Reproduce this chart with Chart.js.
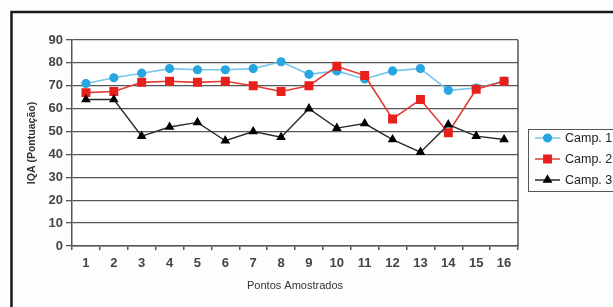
<!DOCTYPE html>
<html>
<head>
<meta charset="utf-8">
<script src="https://cdn.jsdelivr.net/npm/chart.js@4/dist/chart.umd.min.js"></script>
<style>
  html, body { margin: 0; padding: 0; background: #fdfdfd; }
  #wrap { position: relative; width: 613px; height: 307px; }
</style>
</head>
<body>
<div id="wrap"><canvas id="myChart" width="613" height="307"></canvas></div>
<script>
// dados
const pontos = ['1','2','3','4','5','6','7','8','9','10','11','12','13','14','15','16'];
const camp1 = [71, 73.5, 75.5, 77.5, 77, 77, 77.5, 80.5, 75, 76.5, 73, 76.5, 77.5, 68, 69, 72];
const camp2 = [67, 67.5, 71.5, 72, 71.5, 72, 70, 67.5, 70, 78.5, 74.5, 55.5, 64, 49.5, 68.5, 72];
const camp3 = [64, 64, 48, 52, 54, 46, 50, 47.5, 60, 51.5, 53.5, 46.5, 41, 53, 48, 46.5];
const nomes = ['Camp. 1', 'Camp. 2', 'Camp. 3'];

const fonte = "'Liberation Sans', Arial, sans-serif";

// moldura externa + borda direita do grafico
const moldura = {
    id: 'moldura',
    beforeDraw(chart) {
        const ctx = chart.ctx;
        ctx.save();
        ctx.fillStyle = '#fdfdfd';
        ctx.fillRect(0, 0, chart.width, chart.height);
        ctx.fillStyle = '#ffffff';
        const a = chart.chartArea;
        ctx.fillRect(a.left, a.top, a.right - a.left, a.bottom - a.top);
        ctx.strokeStyle = '#1a1a1a';
        ctx.lineWidth = 2.5;
        ctx.beginPath();
        ctx.moveTo(11.5, chart.height + 2);
        ctx.lineTo(11.5, 12);
        ctx.lineTo(chart.width + 2, 12);
        ctx.stroke();
        ctx.restore();
    },
    afterDraw(chart) {
        const ctx = chart.ctx;
        const a = chart.chartArea;
        ctx.save();
        ctx.strokeStyle = '#555';
        ctx.lineWidth = 1.5;
        ctx.beginPath();
        ctx.moveTo(a.right, a.top);
        ctx.lineTo(a.right, a.bottom);
        ctx.stroke();
        ctx.restore();
    }
};

// legenda com caixa, do lado direito
const legenda = {
    id: 'legenda',
    afterDraw(chart) {
        const ctx = chart.ctx;
        ctx.save();
        ctx.strokeStyle = '#555';
        ctx.lineWidth = 1;
        ctx.strokeRect(528.5, 129.5, 100, 62);
        let y = 138;
        for (const ds of chart.data.datasets) {
            ctx.strokeStyle = ds.borderColor;
            ctx.lineWidth = 1.5;
            ctx.beginPath();
            ctx.moveTo(535, y);
            ctx.lineTo(560, y);
            ctx.stroke();
            ctx.fillStyle = ds.pointBackgroundColor;
            ctx.strokeStyle = ds.pointBackgroundColor;
            Chart.helpers.drawPoint(ctx, {pointStyle: ds.pointStyle, radius: ds.pointRadius, rotation: 0, borderWidth: 1}, 547.5, y);
            ctx.fillStyle = '#222';
            ctx.font = '12.5px ' + fonte;
            ctx.textBaseline = 'middle';
            ctx.textAlign = 'left';
            ctx.fillText(ds.label, 565, y + 1);
            y += 21;
        }
        ctx.restore();
    }
};

const ctx = document.getElementById('myChart').getContext('2d');

const data = {
    labels: pontos,
    datasets: [
        {
            label: nomes[0], data: camp1, order: 3,
            borderColor: '#78c6ec', borderWidth: 1.6,
            pointStyle: 'circle', pointRadius: 3.8,
            pointBackgroundColor: '#27a6e0', pointBorderColor: '#27a6e0',
        },
        {
            label: nomes[1], data: camp2, order: 2,
            borderColor: '#e23b35', borderWidth: 1.6,
            pointStyle: 'rect', pointRadius: 5.2,
            pointBackgroundColor: '#e8201c', pointBorderColor: '#e8201c',
        },
        {
            label: nomes[2], data: camp3, order: 1,
            borderColor: '#2a2a2a', borderWidth: 1.4,
            pointStyle: 'triangle', pointRadius: 4.2,
            pointBackgroundColor: '#000', pointBorderColor: '#000',
        }
    ]
};

const options = {
    responsive: false,
    animation: false,
    layout: { padding: { top: 40, right: 95, bottom: 0, left: 0 } },
    plugins: { legend: { display: false }, tooltip: { enabled: false } },
    elements: { line: { tension: 0 } },
    scales: {
        x: {
            offset: true,
            grid: { offset: true, drawOnChartArea: false, drawTicks: true, tickLength: 4, color: '#555', lineWidth: 1.5 },
            border: { color: '#555', width: 1.5 },
            ticks: { color: '#444', font: { family: fonte, size: 13, weight: 'bold' }, padding: 6, maxRotation: 0, autoSkip: false },
            title: { display: true, text: 'Pontos Amostrados', color: '#333', font: { family: fonte, size: 11 }, padding: { top: 0, bottom: 14 } },
            afterFit(scale) { scale.height = 61; }
        },
        y: {
            min: 0, max: 90,
            grid: { color: '#555', lineWidth: 1.3, tickLength: 6 },
            border: { color: '#555', width: 1.5 },
            ticks: { stepSize: 10, color: '#444', font: { family: fonte, size: 13, weight: 'bold' }, padding: 3 },
            title: { display: true, text: 'IQA (Pontuação)', color: '#333', font: { family: fonte, size: 10.5, weight: 'bold' }, padding: { top: 26, bottom: 0 } },
            afterFit(scale) { scale.width = 72; }
        }
    }
};

new Chart(ctx, {
    type: 'line',
    data: data,
    options: options,
    plugins: [moldura, legenda]
});
</script>
</body>
</html>
